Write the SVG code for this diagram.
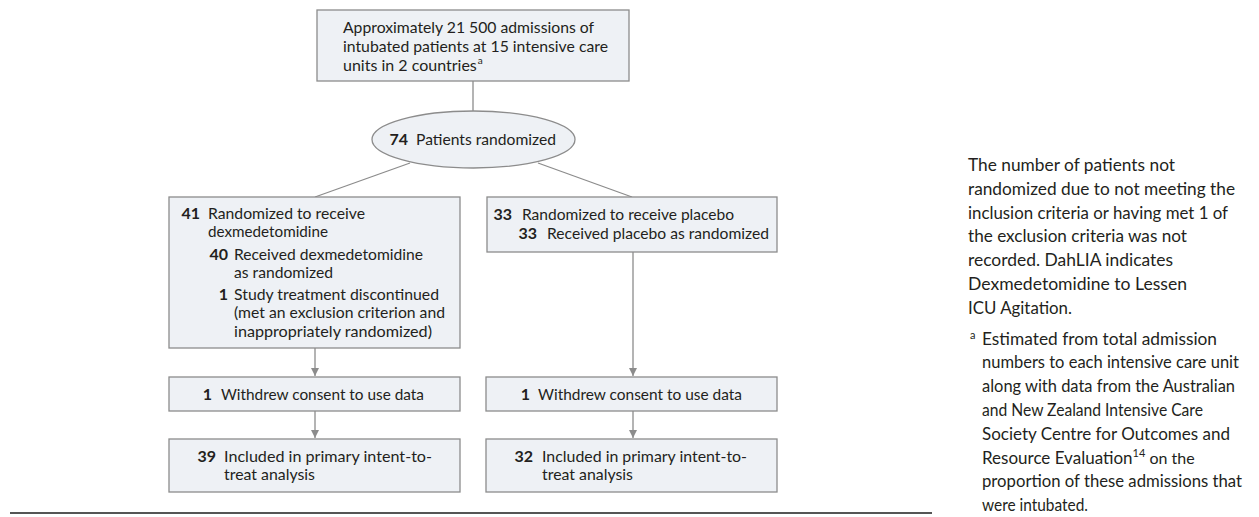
<svg xmlns="http://www.w3.org/2000/svg" width="1259" height="517" viewBox="0 0 1259 517">
<style>
text{font-family:"Lato","Liberation Sans",sans-serif;font-size:16px;fill:#231f20}
.b{font-weight:bold}
.box{fill:#eef1f5;stroke:#8c8c8c;stroke-width:1.3}
.ln{stroke:#8c8c8c;stroke-width:1.3;fill:none}
.note{font-size:17px}
.sup{font-size:10px}
</style>
<defs>
<marker id="ah" viewBox="0 0 10 10" refX="10" refY="5" markerWidth="8" markerHeight="8" markerUnits="userSpaceOnUse" orient="auto">
<path d="M0,0 L10,5 L0,10 z" fill="#8c8c8c"/>
</marker>
</defs>
<g id="connectors">
<line class="ln" x1="473" y1="81" x2="473" y2="111"/>
<line class="ln" x1="410" y1="163" x2="315" y2="197"/>
<line class="ln" x1="538" y1="163" x2="632" y2="197"/>
<line class="ln" x1="315" y1="348" x2="315" y2="376" marker-end="url(#ah)"/>
<line class="ln" x1="633" y1="252" x2="633" y2="376" marker-end="url(#ah)"/>
<line class="ln" x1="315" y1="411" x2="315" y2="438" marker-end="url(#ah)"/>
<line class="ln" x1="633" y1="411" x2="633" y2="438" marker-end="url(#ah)"/>
</g>
<g id="n-admissions">
<rect class="box" x="317" y="10" width="312" height="71"/>
<text x="343" y="33" textLength="251" lengthAdjust="spacingAndGlyphs">Approximately 21 500 admissions of</text>
<text x="343" y="52" textLength="265" lengthAdjust="spacingAndGlyphs">intubated patients at 15 intensive care</text>
<text x="343" y="71" font-size="15.5">units in 2 countries<tspan class="sup" dx="1" dy="-7">a</tspan></text>
</g>
<g id="n-randomized">
<ellipse cx="473.5" cy="139.5" rx="101.5" ry="28.5" fill="#eef1f5" stroke="#8c8c8c" stroke-width="1.3"/>
<text class="b" x="408" y="145" text-anchor="end">74</text>
<text x="416" y="145" textLength="140" lengthAdjust="spacingAndGlyphs">Patients randomized</text>
</g>
<g id="n-dex">
<rect class="box" x="169" y="197" width="291" height="151"/>
<text class="b" x="200" y="219" text-anchor="end">41</text>
<text x="208" y="219" textLength="157" lengthAdjust="spacingAndGlyphs">Randomized to receive</text>
<text x="208" y="237" textLength="120" lengthAdjust="spacingAndGlyphs">dexmedetomidine</text>
<text class="b" x="228" y="260" text-anchor="end">40</text>
<text x="234" y="260" textLength="189" lengthAdjust="spacingAndGlyphs">Received dexmedetomidine</text>
<text x="234" y="278" textLength="99" lengthAdjust="spacingAndGlyphs">as randomized</text>
<text class="b" x="228" y="300" text-anchor="end">1</text>
<text x="234" y="300" textLength="205" lengthAdjust="spacingAndGlyphs">Study treatment discontinued</text>
<text x="234" y="318" textLength="211" lengthAdjust="spacingAndGlyphs">(met an exclusion criterion and</text>
<text x="234" y="337" textLength="198" lengthAdjust="spacingAndGlyphs">inappropriately randomized)</text>
</g>
<g id="n-placebo">
<rect class="box" x="487" y="197" width="290" height="55"/>
<text class="b" x="512" y="220" text-anchor="end">33</text>
<text x="522" y="220" textLength="212" lengthAdjust="spacingAndGlyphs">Randomized to receive placebo</text>
<text class="b" x="537" y="239" text-anchor="end">33</text>
<text x="547" y="239" textLength="222" lengthAdjust="spacingAndGlyphs">Received placebo as randomized</text>
</g>
<g id="n-withdrew-dex">
<rect class="box" x="169" y="377" width="291" height="34"/>
<text class="b" x="212" y="400" text-anchor="end">1</text>
<text x="221" y="400" textLength="203" lengthAdjust="spacingAndGlyphs">Withdrew consent to use data</text>
</g>
<g id="n-withdrew-pla">
<rect class="box" x="486" y="377" width="291" height="34"/>
<text class="b" x="530" y="400" text-anchor="end">1</text>
<text x="538" y="400" textLength="204" lengthAdjust="spacingAndGlyphs">Withdrew consent to use data</text>
</g>
<g id="n-included-dex">
<rect class="box" x="169" y="439" width="291" height="53"/>
<text class="b" x="216" y="462" text-anchor="end">39</text>
<text x="224" y="462" textLength="208" lengthAdjust="spacingAndGlyphs">Included in primary intent-to-</text>
<text x="224" y="480" textLength="91" lengthAdjust="spacingAndGlyphs">treat analysis</text>
</g>
<g id="n-included-pla">
<rect class="box" x="486" y="439" width="291" height="53"/>
<text class="b" x="533" y="462" text-anchor="end">32</text>
<text x="542" y="462" textLength="205" lengthAdjust="spacingAndGlyphs">Included in primary intent-to-</text>
<text x="542" y="480" textLength="91" lengthAdjust="spacingAndGlyphs">treat analysis</text>
</g>
<line x1="10" y1="513" x2="932" y2="513" stroke="#555" stroke-width="2"/>
<g id="notes">
<text class="note" x="968" y="171" textLength="207" lengthAdjust="spacingAndGlyphs">The number of patients not</text>
<text class="note" x="968" y="194.8" textLength="267" lengthAdjust="spacingAndGlyphs">randomized due to not meeting the</text>
<text class="note" x="968" y="218.6" textLength="260" lengthAdjust="spacingAndGlyphs">inclusion criteria or having met 1 of</text>
<text class="note" x="968" y="242.4" textLength="219" lengthAdjust="spacingAndGlyphs">the exclusion criteria was not</text>
<text class="note" x="968" y="266.2" textLength="205" lengthAdjust="spacingAndGlyphs">recorded. DahLIA indicates</text>
<text class="note" x="968" y="290" textLength="219" lengthAdjust="spacingAndGlyphs">Dexmedetomidine to Lessen</text>
<text class="note" x="968" y="313.8" textLength="104" lengthAdjust="spacingAndGlyphs">ICU Agitation.</text>
<text class="note" x="970" y="344.6"><tspan font-size="11" dy="-6">a</tspan><tspan x="982" dy="6" textLength="235" lengthAdjust="spacingAndGlyphs">Estimated from total admission</tspan></text>
<text class="note" x="982" y="368.4" textLength="257" lengthAdjust="spacingAndGlyphs">numbers to each intensive care unit</text>
<text class="note" x="982" y="392.2" textLength="253" lengthAdjust="spacingAndGlyphs">along with data from the Australian</text>
<text class="note" x="982" y="416" textLength="221" lengthAdjust="spacingAndGlyphs">and New Zealand Intensive Care</text>
<text class="note" x="982" y="439.8" textLength="248" lengthAdjust="spacingAndGlyphs">Society Centre for Outcomes and</text>
<text class="note" x="982" y="463.6">Resource Evaluation<tspan font-size="11" dy="-7">14</tspan><tspan dy="7" font-size="16"> on the</tspan></text>
<text class="note" x="982" y="487.4" textLength="260" lengthAdjust="spacingAndGlyphs">proportion of these admissions that</text>
<text class="note" x="982" y="511.2" textLength="106" lengthAdjust="spacingAndGlyphs">were intubated.</text>
</g>
</svg>
